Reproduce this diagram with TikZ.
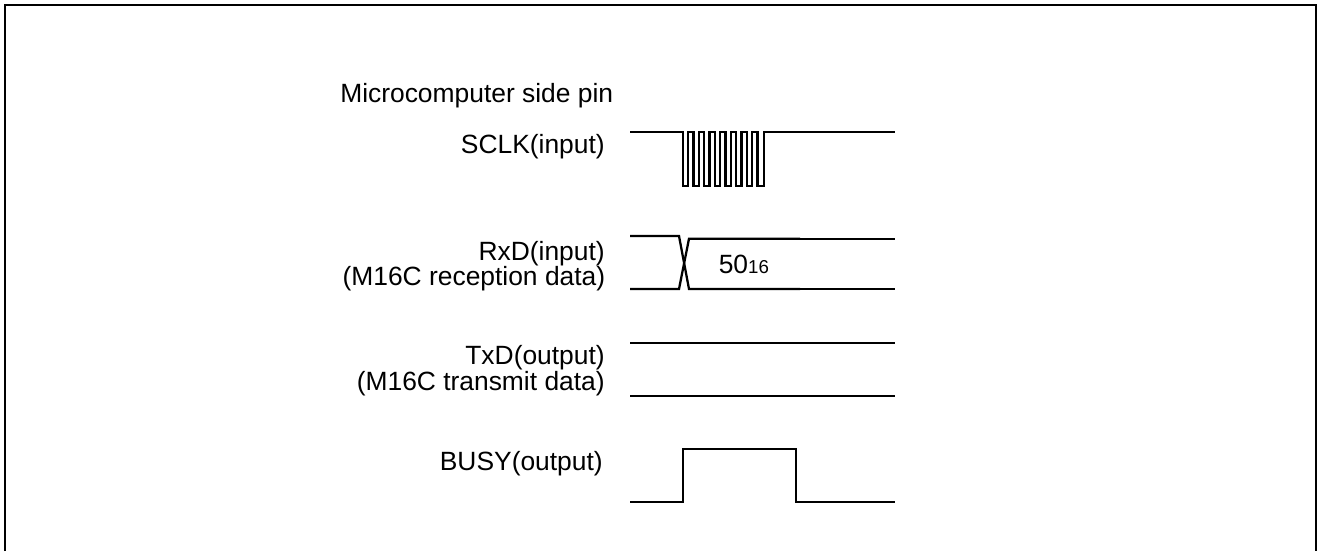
\documentclass[tikz,border=0pt]{standalone}
\usepackage{fontspec}
\setmainfont{Liberation Sans}
\tikzset{
  wave/.style={draw=black,line width=1.7pt,line join=miter},
  framelineA/.style={draw=black,line width=1.8pt},
  lab/.style={anchor=base east,align=right,font=\fontsize{19.8}{24}\selectfont,inner sep=0pt,text=black},
  labl/.style={anchor=base west,font=\fontsize{19.8}{24}\selectfont,inner sep=0pt,text=black}
}
\begin{document}
\begin{tikzpicture}[x=0.75pt,y=-0.75pt]
\useasboundingbox (0,0) rectangle (1318,551);
\draw[framelineA] (4.8,551) -- (4.8,5) -- (1316,5) -- (1316,551);
\node[labl] (title) at (340,102.7) {Microcomputer side pin};
\node[lab] (sclk) at (605,153) {SCLK(input)};
\node[lab] (rxd1) at (605,260) {RxD(input)};
\node[lab] (rxd2) at (605.5,285.7) {(M16C reception data)};
\node[lab] (txd1) at (605,364) {TxD(output)};
\node[lab] (txd2) at (605,390.7) {(M16C transmit data)};
\node[lab] (busy) at (603,470) {BUSY(output)};
\node[labl] (val) at (718.5,273) {50{\fontsize{14}{16}\selectfont 16}};
% SCLK
\draw[wave] (630,132) -- (683,132) -- (683,186) -- (688,186) -- (688,132)
  -- (693.5,132) -- (693.5,186) -- (699,186) -- (699,132)
  -- (704,132) -- (704,186) -- (709.5,186) -- (709.5,132)
  -- (715,132) -- (715,186) -- (720,186) -- (720,132)
  -- (725.5,132) -- (725.5,186) -- (731,186) -- (731,132)
  -- (736,132) -- (736,186) -- (741.5,186) -- (741.5,132)
  -- (747,132) -- (747,186) -- (752,186) -- (752,132)
  -- (757.5,132) -- (757.5,186) -- (764,186) -- (764,132) -- (895,132);
% RxD
\draw[wave] (630,236) -- (679,236) -- (689,289) -- (800,289);
\draw[wave] (630,289) -- (679,289) -- (689,238.7) -- (800,238.7);
\draw[wave] (800,238.7) -- (895,238.7);
\draw[wave] (800,289) -- (895,289);
% TxD
\draw[wave] (630,342.7) -- (895,342.7);
\draw[wave] (630,396) -- (895,396);
% BUSY
\draw[wave] (630,502) -- (683,502) -- (683,449) -- (796,449) -- (796,502) -- (895,502);
\end{tikzpicture}
\end{document}
